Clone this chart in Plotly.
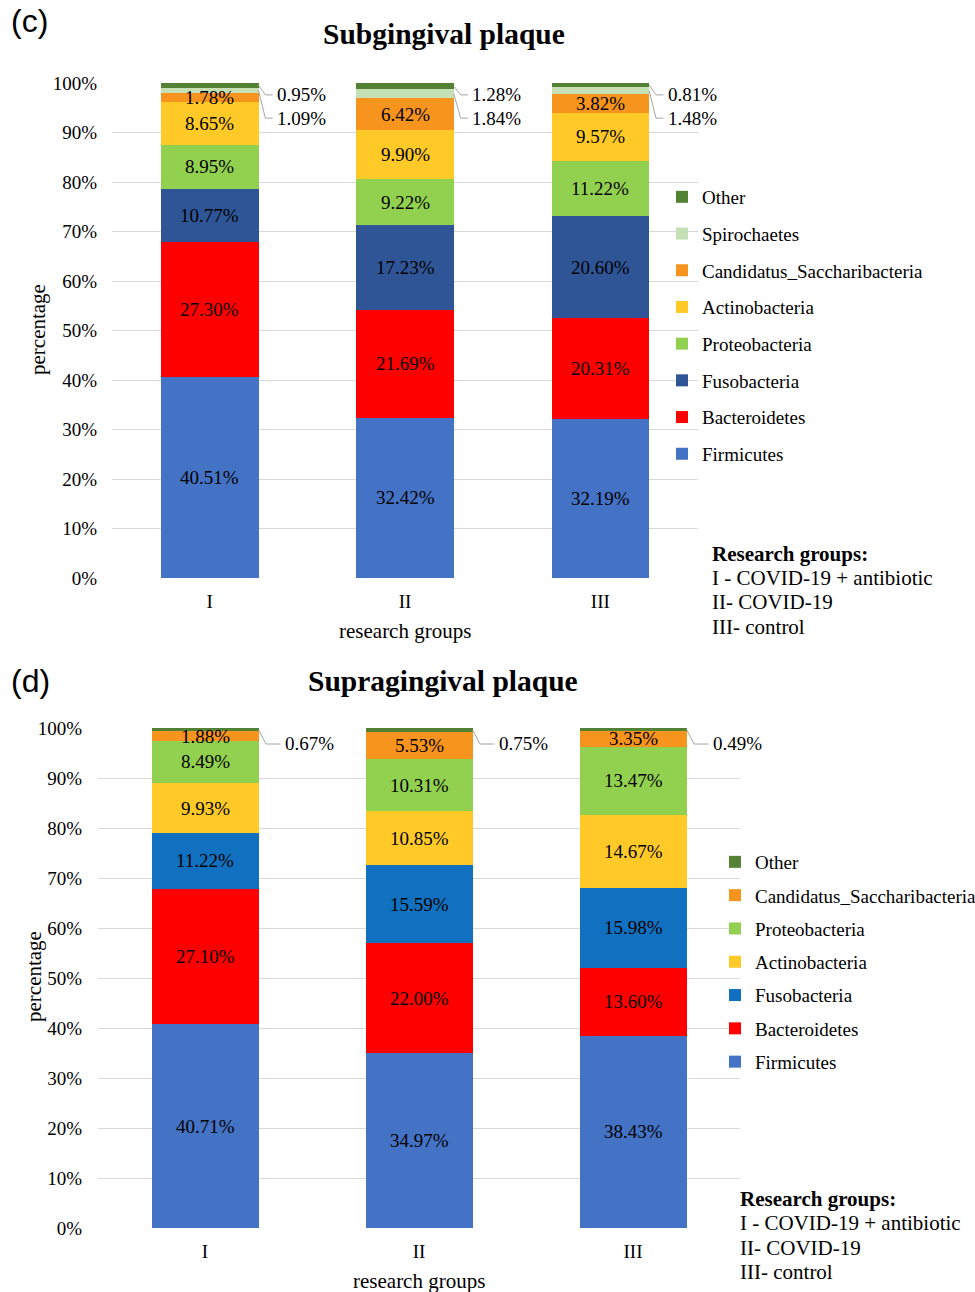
import plotly.graph_objects as go

# ---------------- data ----------------
groups = ["I", "II", "III"]

# Subgingival plaque (%), stacked bottom -> top
sub_series = ["Firmicutes", "Bacteroidetes", "Fusobacteria", "Proteobacteria",
              "Actinobacteria", "Candidatus_Saccharibacteria", "Spirochaetes", "Other"]
sub_firmicutes = [40.51, 32.42, 32.19]
sub_bacteroidetes = [27.30, 21.69, 20.31]
sub_fusobacteria = [10.77, 17.23, 20.60]
sub_proteobacteria = [8.95, 9.22, 11.22]
sub_actinobacteria = [8.65, 9.90, 9.57]
sub_candidatus = [1.78, 6.42, 3.82]
sub_spirochaetes = [1.09, 1.84, 1.48]
sub_other = [0.95, 1.28, 0.81]

# Supragingival plaque (%), stacked bottom -> top
sup_series = ["Firmicutes", "Bacteroidetes", "Fusobacteria", "Actinobacteria",
              "Proteobacteria", "Candidatus_Saccharibacteria", "Other"]
sup_firmicutes = [40.71, 34.97, 38.43]
sup_bacteroidetes = [27.10, 22.00, 13.60]
sup_fusobacteria = [11.22, 15.59, 15.98]
sup_actinobacteria = [9.93, 10.85, 14.67]
sup_proteobacteria = [8.49, 10.31, 13.47]
sup_candidatus = [1.88, 5.53, 3.35]
sup_other = [0.67, 0.75, 0.49]

y_ticks = list(range(0, 101, 10))
y_tick_labels = [f"{v}%" for v in y_ticks]
legend_note = ["<b>Research groups:</b>", "I - COVID-19 + antibiotic", "II- COVID-19", "III- control"]

# ---------------- styling ----------------
SERIF = "Liberation Serif, Times New Roman, serif"
SANS = "Liberation Sans, Arial, sans-serif"
W, H = 975, 1292
colors_sub = {
    "Firmicutes": "#4472C4", "Bacteroidetes": "#FF0000", "Fusobacteria": "#2F5597",
    "Proteobacteria": "#92D050", "Actinobacteria": "#FFCA28",
    "Candidatus_Saccharibacteria": "#F7941D", "Spirochaetes": "#C5E0B4", "Other": "#548235",
}
colors_sup = dict(colors_sub, Fusobacteria="#1170BF")
GRID = "#D9D9D9"
LEADER = "#A6A6A6"
BAR_W = 0.5
BLACK = "#000000"


def py(px):
    """pixel row -> paper fraction"""
    return 1 - px / H


def px_x(px):
    return px / W


sub_values = [sub_firmicutes, sub_bacteroidetes, sub_fusobacteria, sub_proteobacteria,
              sub_actinobacteria, sub_candidatus, sub_spirochaetes, sub_other]
sup_values = [sup_firmicutes, sup_bacteroidetes, sup_fusobacteria, sup_actinobacteria,
              sup_proteobacteria, sup_candidatus, sup_other]

fig = go.Figure()
annotations = []
xs = list(range(len(groups)))


def add_panel(series, values, colors, xaxis, yaxis, legend, outside, label_x_off, outside_y):
    """Stacked bars plus centred value labels; small top segments labelled at the side."""
    base = [0.0] * len(groups)
    mids = {}
    n = len(series)
    for k, (name, vals) in enumerate(zip(series, values)):
        fig.add_trace(go.Bar(
            x=xs, y=vals, name=name, width=BAR_W, marker=dict(color=colors[name], line=dict(width=0)),
            xaxis=xaxis, yaxis=yaxis, legend=legend, legendgroup=legend + name,
            legendrank=n - k, hoverinfo="skip",
        ))
        mids[name] = []
        for i, v in enumerate(vals):
            mid = base[i] + v / 2
            mids[name].append(mid)
            if name not in outside:
                annotations.append(dict(
                    x=xs[i], y=mid, xref=xaxis, yref=yaxis, yanchor="middle",
                    text=f"{v:.2f}%", showarrow=False,
                    font=dict(family=SERIF, size=19, color=BLACK),
                ))
            base[i] += v
    # outside labels with elbow leader lines
    for name, ly in zip(outside, outside_y):
        vals = values[series.index(name)]
        for i, v in enumerate(vals):
            edge = xs[i] + BAR_W / 2
            lx = edge + label_x_off
            fig.add_trace(go.Scatter(
                x=[edge, edge + 0.035, lx - 0.012], y=[mids[name][i], ly, ly],
                mode="lines", line=dict(color=LEADER, width=1),
                xaxis=xaxis, yaxis=yaxis, showlegend=False, hoverinfo="skip",
            ))
            annotations.append(dict(
                x=lx, y=ly, xref=xaxis, yref=yaxis, yanchor="middle",
                text=f"{v:.2f}%", showarrow=False, xanchor="left",
                font=dict(family=SERIF, size=19, color=BLACK),
            ))


add_panel(sub_series, sub_values, colors_sub, "x", "y", "legend",
          ["Other", "Spirochaetes"], 0.085, [97.6, 92.9])
add_panel(sup_series, sup_values, colors_sup, "x2", "y2", "legend2",
          ["Other"], 0.115, [96.8])

xaxis_common = dict(
    showgrid=False, zeroline=False, showline=False, automargin=False,
    range=[-0.5, 2.5], tickvals=xs, ticktext=groups, ticks="", ticklabelstandoff=10,
    tickfont=dict(family=SERIF, size=19, color=BLACK),
)
yaxis_common = dict(
    range=[0, 100], tickvals=y_ticks, ticktext=y_tick_labels, showgrid=True, gridcolor=GRID,
    gridwidth=1, zeroline=False, showline=False, ticks="", automargin=False,
    tickfont=dict(family=SERIF, size=19, color=BLACK),
)
legend_common = dict(
    xanchor="left", yanchor="top", traceorder="grouped", itemwidth=30,
    font=dict(family=SERIF, size=19, color=BLACK), bgcolor="rgba(0,0,0,0)",
)

fig.update_layout(
    width=W, height=H, margin=dict(l=0, r=0, t=0, b=0, autoexpand=False),
    paper_bgcolor="white", plot_bgcolor="white",
    barmode="stack",
    xaxis=dict(xaxis_common, domain=[px_x(112), px_x(698)], anchor="y"),
    yaxis=dict(yaxis_common, domain=[py(578), py(83)], anchor="x", ticklabelstandoff=14),
    xaxis2=dict(xaxis_common, domain=[px_x(98), px_x(740)], anchor="y2"),
    yaxis2=dict(yaxis_common, domain=[py(1228), py(728)], anchor="x2", ticklabelstandoff=15),
    legend=dict(legend_common, x=px_x(662), y=py(178), tracegroupgap=9),
    legend2=dict(legend_common, x=px_x(715), y=py(843), tracegroupgap=5.6),
)


def text_at(x_px, y_px, text, size, family=SERIF, xanchor="center", angle=0):
    annotations.append(dict(
        x=px_x(x_px), y=py(y_px), xref="paper", yref="paper", text=text,
        xanchor=xanchor, yanchor="middle", textangle=angle, showarrow=False,
        font=dict(family=family, size=size, color=BLACK),
    ))


# titles, panel letters and axis titles
text_at(444, 34, "<b>Subgingival plaque</b>", 29.5)
text_at(443, 681, "<b>Supragingival plaque</b>", 29.5)
text_at(9, 21, "(c)", 32, family=SANS, xanchor="left")
text_at(9, 681, "(d)", 32, family=SANS, xanchor="left")
text_at(405, 631, "research groups", 21)
text_at(419, 1281, "research groups", 21)
text_at(38, 330, "percentage", 21, angle=-90)
text_at(34, 977, "percentage", 21, angle=-90)

for k, line in enumerate(legend_note):
    text_at(710, 554 + 24.2 * k, line, 21, xanchor="left")
    text_at(738, 1199 + 24.3 * k, line, 21, xanchor="left")

fig.update_layout(annotations=annotations)
fig.write_html("out.html")
